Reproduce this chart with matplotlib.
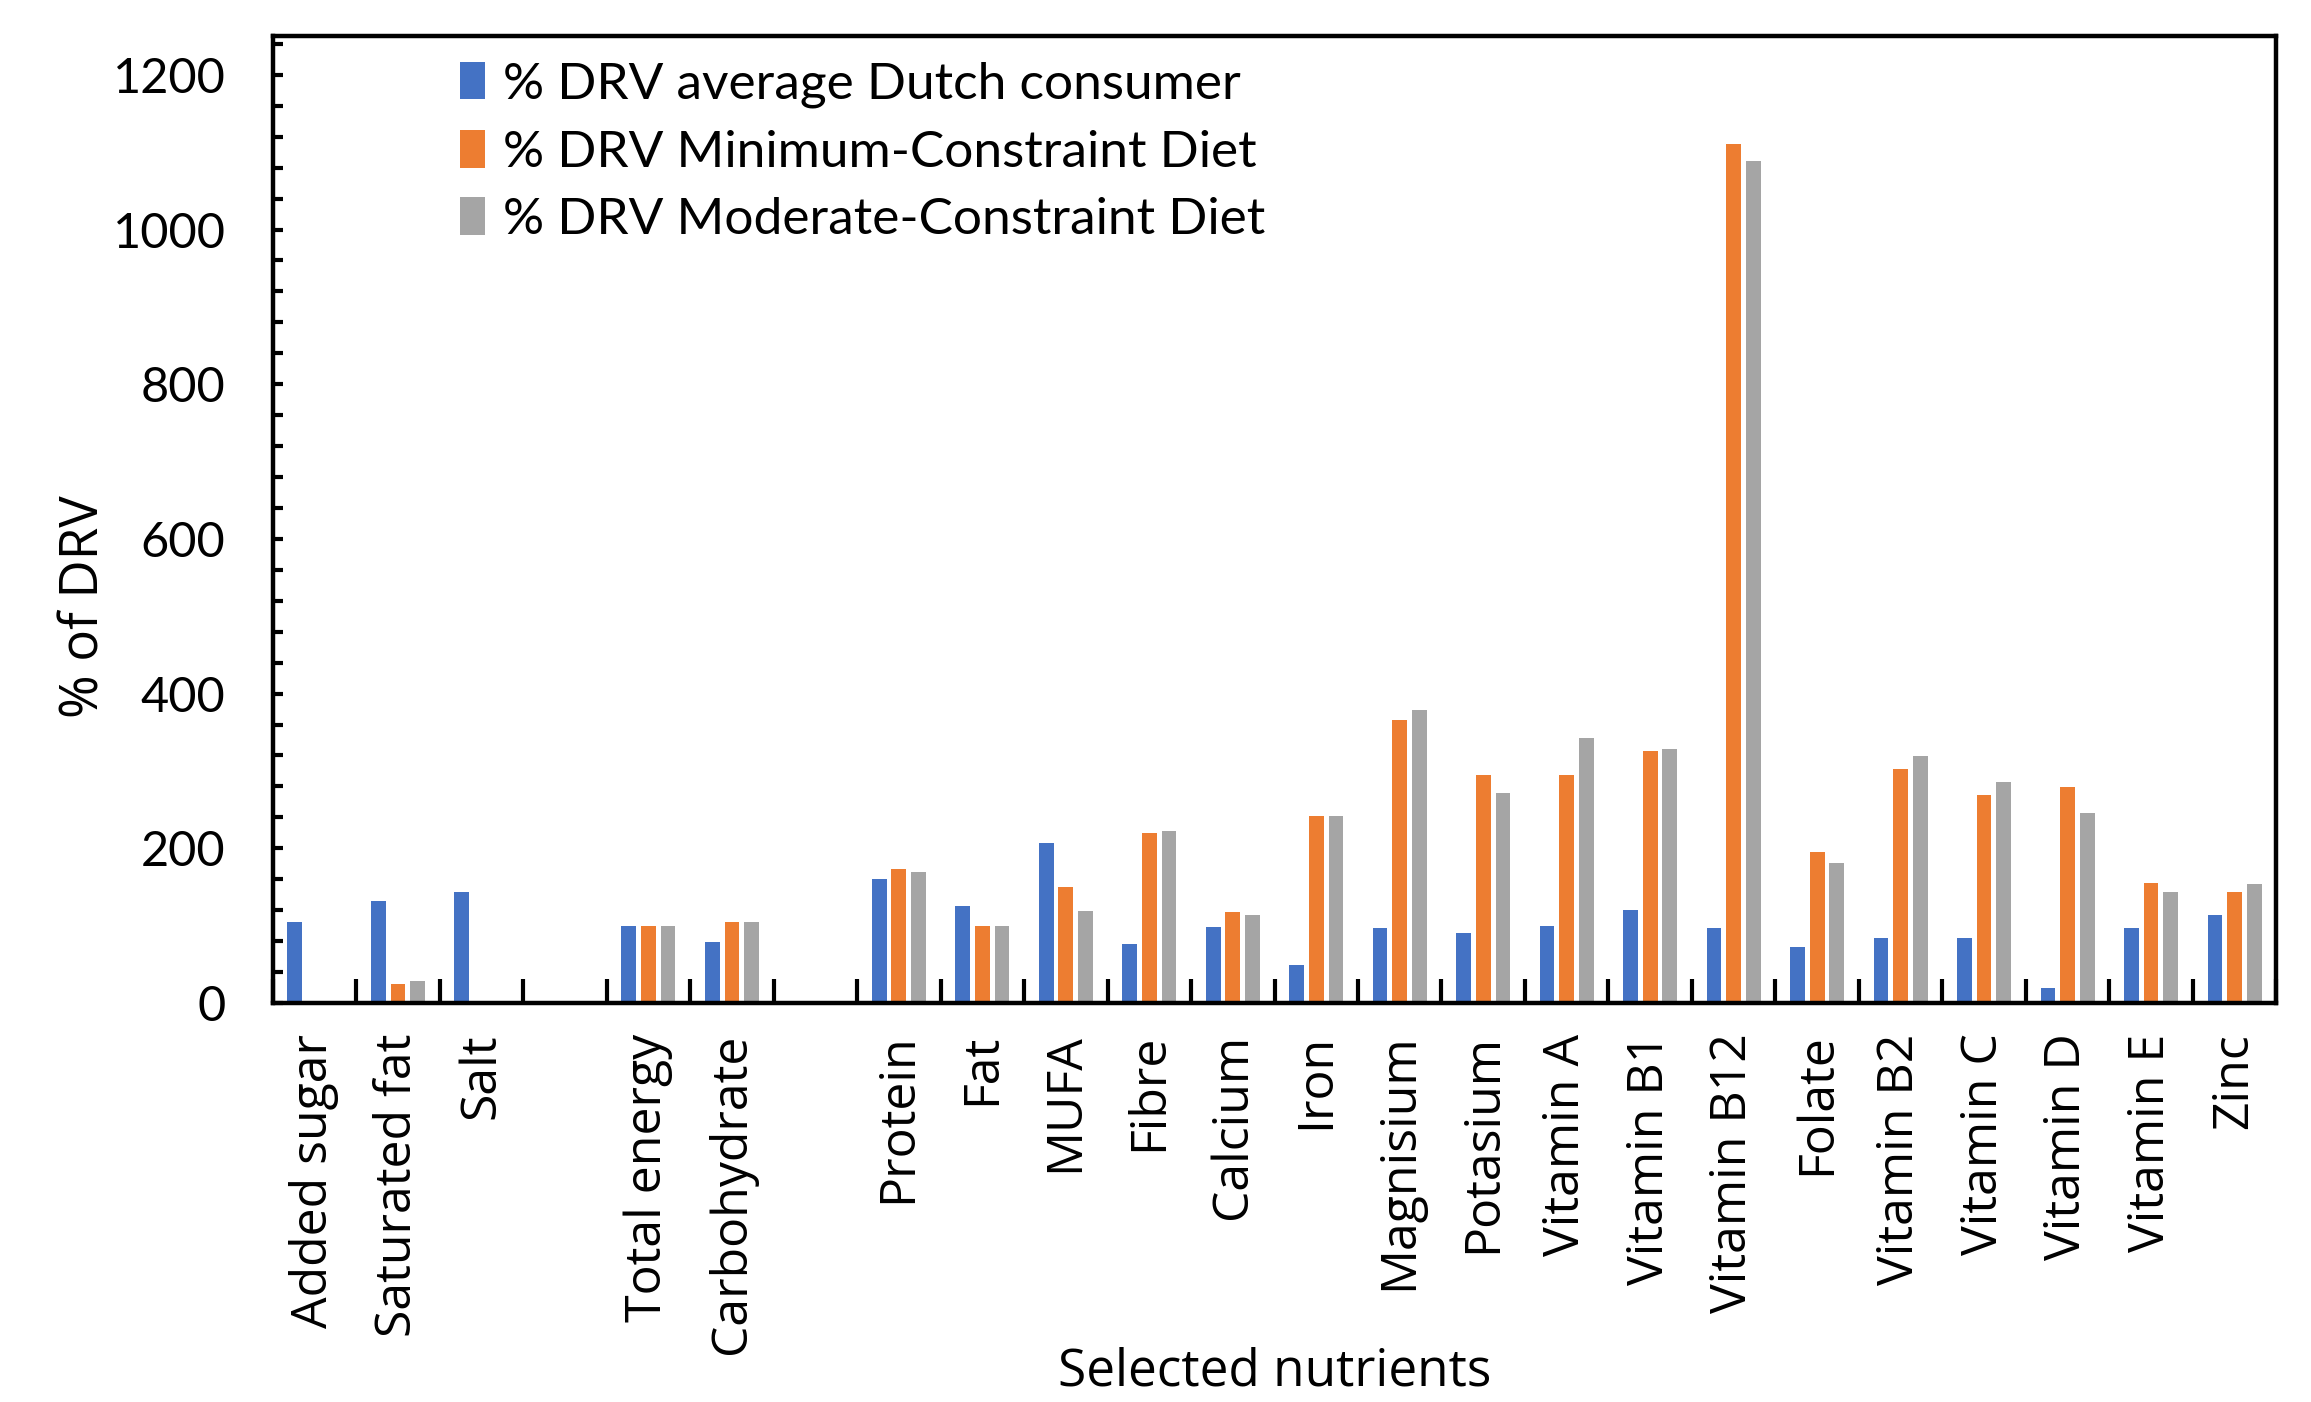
import matplotlib
matplotlib.use("Agg")
import matplotlib.pyplot as plt
import numpy as np

# categories (blank strings are the empty gap slots in the original chart)
nutrients = ["Added sugar", "Saturated fat", "Salt", "", "Total energy", "Carbohydrate", "",
             "Protein", "Fat", "MUFA", "Fibre", "Calcium", "Iron", "Magnisium", "Potasium",
             "Vitamin A", "Vitamin B1", "Vitamin B12", "Folate", "Vitamin B2", "Vitamin C",
             "Vitamin D", "Vitamin E", "Zinc"]

nan = np.nan
dutch = [105, 132, 143, nan, 100, 79, nan,
         160, 126, 207, 76, 98, 49, 97, 90,
         100, 120, 97, 73, 84, 84,
         19, 97, 114]
min_diet = [nan, 25, nan, nan, 100, 105, nan,
            173, 99, 150, 220, 118, 242, 366, 295,
            295, 326, 1111, 195, 303, 269,
            279, 155, 144]
mod_diet = [nan, 28, nan, nan, 100, 105, nan,
            169, 99, 119, 223, 114, 242, 379, 272,
            342, 329, 1088, 181, 319, 286,
            245, 144, 154]

series_names = ["% DRV average Dutch consumer",
                "% DRV Minimum-Constraint Diet",
                "% DRV Moderate-Constraint Diet"]
colors = ["#4472C4", "#ED7D31", "#A5A5A5"]

plt.rcParams['font.family'] = ['Lato', 'DejaVu Sans']
label_font = ['Open Sans', 'DejaVu Sans']

fig = plt.figure(figsize=(23.11, 14.02), dpi=100)
ax = fig.add_axes([0.118, 0.2846, 0.867, 0.6896])

x = np.arange(len(nutrients))
w = 0.176
step = 0.235
for i, (vals, name, c) in enumerate(zip([dutch, min_diet, mod_diet], series_names, colors)):
    ax.bar(x + (i - 1) * step, vals, width=w, color=c, label=name)

ax.set_xlim(-0.5, len(nutrients) - 0.5)
ax.set_ylim(0, 1250)

ax.set_yticks(np.arange(0, 1201, 200))
ax.set_yticks(np.arange(0, 1250, 40), minor=True)
ax.tick_params(axis='y', which='both', direction='in', length=7, width=3, labelsize=35, pad=34)

ax.set_xticks(x)
ax.set_xticklabels(nutrients, rotation=90, fontsize=36, family=label_font)
ax.set_xticks(np.arange(-0.5, len(nutrients), 1), minor=True)
ax.tick_params(axis='x', which='major', length=0, pad=22)
ax.tick_params(axis='x', which='minor', direction='in', length=17, width=3)

for sp in ax.spines.values():
    sp.set_linewidth(3.2)
    sp.set_color('black')

ax.set_ylabel("% of DRV", fontsize=38, family=label_font, va='center')
ax.yaxis.set_label_coords(-0.094, 0.41)
ax.set_xlabel("Selected nutrients", fontsize=37, family=label_font, va='center')
ax.xaxis.set_label_coords(0.5, -0.382)

leg = ax.legend(loc='upper left', bbox_to_anchor=(0.083, 0.995), frameon=False,
                fontsize=37, handlelength=0.5, handleheight=0.75, handletextpad=0.35,
                labelspacing=0.42, borderaxespad=0)

fig.savefig("out.png", dpi=100)
